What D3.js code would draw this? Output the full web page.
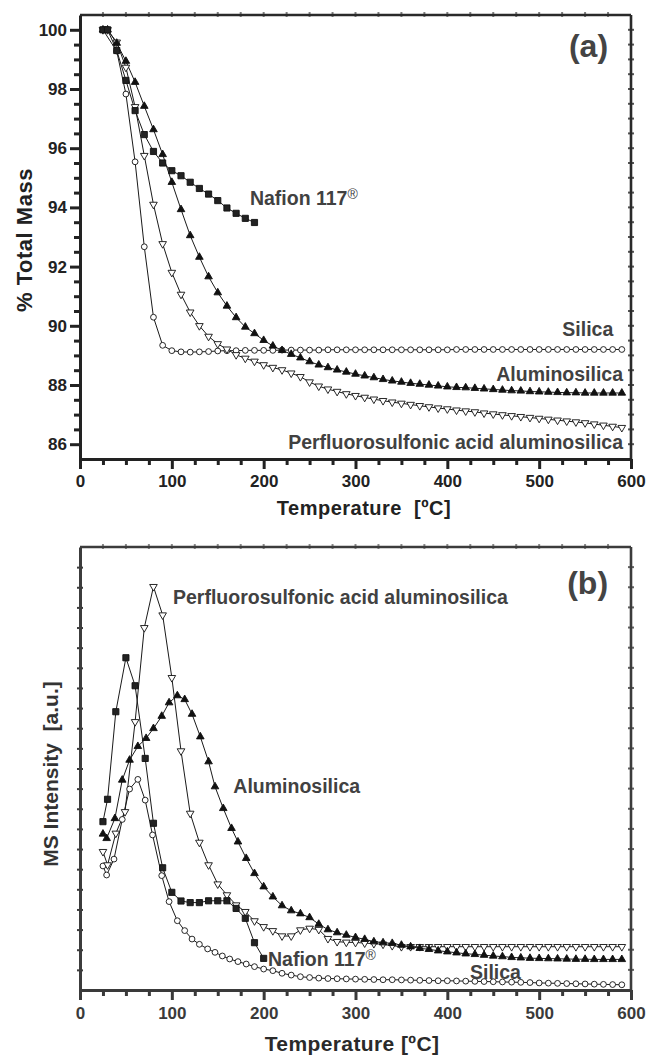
<!DOCTYPE html>
<html>
<head>
<meta charset="utf-8">
<script src="https://cdn.jsdelivr.net/npm/d3@7"></script>
<style>
body { margin: 0; background: #fff; }
svg { display: block; font-family: "Liberation Sans", Arial, sans-serif; }
</style>
</head>
<body>
<script>
// ---- panel (a): % total mass vs temperature ----
var tempA = [25, 30, 40, 50, 60, 70, 80, 90, 100, 110, 120, 130, 140, 150, 160, 170, 180, 190,
    200, 210, 220, 230, 240, 250, 260, 270, 280, 290, 300, 310, 320, 330, 340, 350, 360, 370, 380, 390,
    400, 410, 420, 430, 440, 450, 460, 470, 480, 490, 500, 510, 520, 530, 540, 550, 560, 570, 580, 590];
var perfA = [100.0, 100.0, 99.58, 98.73, 97.40, 95.75, 94.10, 92.77, 91.80, 91.06, 90.46, 90.00, 89.64, 89.39,
    89.21, 89.02, 88.90, 88.80, 88.68, 88.59, 88.51, 88.40, 88.28, 88.10, 87.96, 87.86, 87.78, 87.70, 87.64,
    87.58, 87.52, 87.47, 87.42, 87.38, 87.34, 87.30, 87.26, 87.22, 87.19, 87.15, 87.12, 87.09, 87.05, 87.02,
    86.99, 86.96, 86.93, 86.90, 86.87, 86.84, 86.81, 86.78, 86.75, 86.72, 86.68, 86.64, 86.60, 86.56];
var aluA = [100.0, 100.0, 99.55, 98.94, 98.23, 97.42, 96.63, 95.79, 94.85, 93.93, 93.05, 92.32, 91.66, 91.12,
    90.67, 90.28, 89.96, 89.74, 89.51, 89.32, 89.17, 89.04, 88.92, 88.79, 88.68, 88.59, 88.51, 88.44, 88.37,
    88.31, 88.25, 88.19, 88.14, 88.10, 88.06, 88.03, 88.00, 87.97, 87.94, 87.92, 87.91, 87.89, 87.87, 87.85,
    87.83, 87.81, 87.80, 87.78, 87.77, 87.76, 87.75, 87.74, 87.74, 87.73, 87.73, 87.73, 87.73, 87.73];

var silicaA_T = [25, 40, 50, 60, 70, 80, 90, 100, 110, 120, 130, 140, 150, 160, 170, 180, 190,
    200, 210, 220, 230, 240, 250, 260, 270, 280, 290, 300, 310, 320, 330, 340, 350, 360, 370, 380, 390,
    400, 410, 420, 430, 440, 450, 460, 470, 480, 490, 500, 510, 520, 530, 540, 550, 560, 570, 580, 590];
var silicaA = [100.0, 99.28, 97.83, 95.54, 92.67, 90.29, 89.34, 89.16, 89.12, 89.11, 89.12, 89.13, 89.15,
    89.16, 89.16, 89.17, 89.17, 89.17, 89.17, 89.18, 89.18, 89.18, 89.18, 89.18, 89.19, 89.19, 89.19,
    89.19, 89.19, 89.19, 89.19, 89.19, 89.19, 89.19, 89.19, 89.19, 89.19, 89.19, 89.20, 89.20, 89.20,
    89.20, 89.20, 89.20, 89.20, 89.20, 89.20, 89.20, 89.20, 89.20, 89.20, 89.20, 89.20, 89.20, 89.20, 89.20, 89.20];

var nafionA_T = [25, 30, 40, 50, 60, 70, 80, 90, 100, 110, 120, 130, 140, 150, 160, 170, 180, 190];
var nafionA = [100.0, 100.0, 99.30, 98.29, 97.27, 96.46, 95.89, 95.50, 95.24, 95.07, 94.85, 94.64, 94.45,
    94.23, 93.98, 93.80, 93.63, 93.49];

// ---- panel (b): MS intensity (a.u.) vs temperature ----
var perfB_T = [25, 30, 39, 49, 60, 70, 80, 90, 100, 110, 120, 130, 140, 150, 160, 170, 180, 190,
    200, 210, 220, 230, 240, 250, 260, 270, 280, 290, 300, 310, 320, 330, 340, 350, 360, 370, 380, 390,
    400, 410, 420, 430, 440, 450, 460, 470, 480, 490, 500, 510, 520, 530, 540, 550, 560, 570, 580, 590];
var perfB = [6.87, 6.21, 7.78, 8.85, 13.32, 17.99, 20.03, 18.62, 15.51, 11.87, 8.77, 7.33, 6.21, 5.26,
    4.72, 4.22, 3.89, 3.43, 3.14, 2.94, 2.68, 2.68, 2.98, 3.06, 3.00, 2.55, 2.40, 2.37, 2.36, 2.33, 2.30,
    2.27, 2.20, 2.15, 2.15, 2.15, 2.15, 2.15, 2.15, 2.15, 2.15, 2.15, 2.15, 2.15, 2.15, 2.15, 2.15, 2.15,
    2.15, 2.15, 2.15, 2.15, 2.15, 2.15, 2.15, 2.15, 2.15, 2.15];

var aluB_T = [25, 29, 38, 46, 54, 63, 72, 80, 89, 97, 106, 114, 122, 131, 140, 147, 156, 165, 172, 181,
    190, 200, 210, 220, 230, 240, 250, 260, 270, 280, 290, 300, 310, 320, 330, 340, 350, 360, 370, 380, 390,
    400, 410, 420, 430, 440, 450, 460, 470, 480, 490, 500, 510, 520, 530, 540, 550, 560, 570, 580, 590];
var aluB = [7.75, 7.53, 8.52, 10.43, 11.42, 12.10, 12.50, 12.99, 13.60, 14.27, 14.62, 14.43, 13.70, 12.58,
    11.34, 10.10, 9.02, 8.03, 7.36, 6.54, 5.79, 5.13, 4.63, 4.19, 3.94, 3.79, 3.60, 3.27, 3.00, 2.85, 2.73,
    2.61, 2.52, 2.40, 2.35, 2.32, 2.23, 2.15, 2.07, 2.02, 1.95, 1.90, 1.85, 1.80, 1.77, 1.73, 1.69, 1.66,
    1.62, 1.60, 1.58, 1.57, 1.56, 1.55, 1.54, 1.53, 1.53, 1.52, 1.52, 1.52, 1.52];

var nafionB_T = [25, 30, 39, 50, 60, 71, 80, 90, 100, 110, 120, 130, 140, 150, 160, 170, 180, 190, 200];
var nafionB = [8.36, 9.47, 13.82, 16.50, 15.11, 11.50, 8.28, 6.07, 4.85, 4.42, 4.34, 4.34, 4.43, 4.43,
    4.43, 4.05, 3.56, 2.35, 1.57];

var silicaB_T = [25, 29, 37, 46, 54, 63, 71, 79, 89, 97, 106, 114, 122, 130, 139, 147, 155, 163, 172, 181,
    190, 200, 210, 220, 230, 240, 250, 260, 270, 280, 290, 300, 310, 320, 330, 340, 350, 360, 370, 380, 390,
    400, 410, 420, 430, 440, 450, 460, 470, 480, 490, 500, 510, 520, 530, 540, 550, 560, 570, 580, 590];
var silicaB = [6.16, 5.71, 6.50, 8.47, 9.98, 10.46, 9.43, 7.70, 5.68, 4.39, 3.44, 2.95, 2.53, 2.27, 2.04,
    1.87, 1.69, 1.54, 1.41, 1.29, 1.16, 1.04, 0.96, 0.83, 0.74, 0.66, 0.62, 0.59, 0.57, 0.56, 0.55, 0.54,
    0.53, 0.52, 0.51, 0.51, 0.50, 0.49, 0.48, 0.47, 0.46, 0.46, 0.45, 0.44, 0.43, 0.42, 0.41, 0.40, 0.39,
    0.38, 0.37, 0.35, 0.34, 0.33, 0.32, 0.31, 0.30, 0.29, 0.28, 0.27, 0.26];

var xTicks = [0, 100, 200, 300, 400, 500, 600];
var yTicksA = [86, 88, 90, 92, 94, 96, 98, 100];

// sizes
var W = 646, H = 1056;
var LEFT = 80, RIGHT = 631;

var svg = d3.select("body").append("svg")
    .attr("width", W)
    .attr("height", H);

var xA = d3.scaleLinear().domain([0, 600]).range([LEFT, RIGHT]);
var yA = d3.scaleLinear().domain([85.5, 100.5]).range([459, 15]);
var xB = d3.scaleLinear().domain([0, 600]).range([LEFT, RIGHT]);
var yB = d3.scaleLinear().domain([0, 22]).range([990, 547]);

function isMajorX(d) { return xTicks.indexOf(d) >= 0; }

// bottom temperature axis, used by both panels
function bottomAxis(x, yPos, col, labelY) {
    var g = svg.append("g")
        .attr("transform", "translate(0," + yPos + ")")
        .call(d3.axisBottom(x).tickValues(d3.range(0, 601, 25)).tickSizeOuter(0)
            .tickFormat(function (d) { return isMajorX(d) ? d : ""; }));
    g.select(".domain").attr("stroke", col).attr("stroke-width", 3);
    g.selectAll(".tick line").attr("stroke", col).attr("stroke-width", 3)
        .attr("y2", function (d) { return isMajorX(d) ? 10 : 6; });
    g.selectAll(".tick text").attr("y", labelY).attr("dy", "0.71em")
        .attr("fill", col).style("font-size", "17px").style("font-weight", "bold")
        .style("font-family", "'Liberation Sans', Arial, sans-serif");
    return g;
}

// thin top / right border with little tick marks
function border(x, y, yTickVals, col) {
    var top = y.range()[1], bot = y.range()[0];
    svg.append("line").attr("x1", LEFT).attr("x2", RIGHT).attr("y1", top).attr("y2", top)
        .attr("stroke", col).attr("stroke-width", 2.6);
    svg.append("line").attr("x1", RIGHT).attr("x2", RIGHT).attr("y1", top).attr("y2", bot + 1)
        .attr("stroke", col).attr("stroke-width", 2.6);
    svg.append("g").selectAll("line").data(d3.range(25, 600, 25)).join("line")
        .attr("x1", function (d) { return x(d); }).attr("x2", function (d) { return x(d); })
        .attr("y1", top - 3).attr("y2", top + 2)
        .attr("stroke", col).attr("stroke-width", 2).attr("opacity", 0.6);
    svg.append("g").selectAll("line").data(yTickVals).join("line")
        .attr("y1", function (d) { return y(d); }).attr("y2", function (d) { return y(d); })
        .attr("x1", RIGHT - 3).attr("x2", RIGHT + 3)
        .attr("stroke", col).attr("stroke-width", 2).attr("opacity", 0.8);
}

var line = function (x, y) {
    return d3.line().x(function (d) { return x(d.t); }).y(function (d) { return y(d.v); });
};

function pts(T, V) {
    return T.map(function (t, i) { return {t: t, v: V[i]}; });
}

function drawLine(x, y, T, V) {
    svg.append("path").datum(pts(T, V))
        .attr("d", line(x, y))
        .attr("fill", "none")
        .attr("stroke", "#1a1a1a")
        .attr("stroke-width", 1);
}

function drawMarks(x, y, T, V, shape) {
    var g = svg.append("g");
    var data = pts(T, V);
    if (shape === "circle") {
        g.selectAll("circle").data(data).join("circle")
            .attr("cx", function (d) { return x(d.t); })
            .attr("cy", function (d) { return y(d.v); })
            .attr("r", 2.9)
            .attr("fill", "#fff").attr("stroke", "#111").attr("stroke-width", 0.9);
        return;
    }
    var sym, size, fill, rot = 0;
    if (shape === "square") { sym = d3.symbolSquare; size = 38; fill = "#222"; }
    if (shape === "up") { sym = d3.symbolTriangle; size = 25; fill = "#111"; }
    if (shape === "down") { sym = d3.symbolTriangle; size = 25; fill = "#fff"; rot = 180; }
    g.selectAll("path").data(data).join("path")
        .attr("d", d3.symbol().type(sym).size(size))
        .attr("transform", function (d) {
            return "translate(" + x(d.t) + "," + y(d.v) + ") rotate(" + rot + ")";
        })
        .attr("fill", fill).attr("stroke", "#111").attr("stroke-width", 0.9);
}

function label(x, y, t, v, txt, anchor, size, col) {
    return svg.append("text")
        .attr("x", x(t)).attr("y", y(v))
        .attr("text-anchor", anchor)
        .attr("fill", col || "#414141")
        .style("font-size", (size || 19.5) + "px")
        .style("font-weight", "bold")
        .text(txt);
}

function nafionLabel(x, y, t, v) {
    var tx = label(x, y, t, v, "Nafion 117", "start");
    tx.append("tspan").attr("dy", -6).style("font-size", "14px").style("font-weight", "normal").text("®");
}

// ================= panel (a) =================
border(xA, yA, d3.range(86, 100.5, 0.5), "#2a2a2a");

var gyA = svg.append("g")
    .attr("transform", "translate(" + LEFT + ",0)")
    .call(d3.axisLeft(yA).tickValues(d3.range(86, 100.5, 0.5)).tickSizeOuter(0)
        .tickFormat(function (d) { return yTicksA.indexOf(d) >= 0 ? d : ""; }));
gyA.select(".domain").attr("stroke", "#222").attr("stroke-width", 3);
gyA.selectAll(".tick line").attr("stroke", "#222").attr("stroke-width", 3)
    .attr("x2", function (d) { return yTicksA.indexOf(d) >= 0 ? -10 : -6; });
gyA.selectAll(".tick text").attr("x", -13).attr("fill", "#222")
    .style("font-size", "17px").style("font-weight", "bold")
    .style("font-family", "'Liberation Sans', Arial, sans-serif");

bottomAxis(xA, 459, "#222", 16);

drawLine(xA, yA, silicaA_T, silicaA);
drawLine(xA, yA, tempA, perfA);
drawLine(xA, yA, tempA, aluA);
drawLine(xA, yA, nafionA_T, nafionA);
drawMarks(xA, yA, silicaA_T, silicaA, "circle");
drawMarks(xA, yA, tempA, perfA, "down");
drawMarks(xA, yA, tempA, aluA, "up");
drawMarks(xA, yA, nafionA_T, nafionA, "square");

nafionLabel(xA, yA, 185, 94.08);
label(xA, yA, 580.7, 89.67, "Silica", "end");
label(xA, yA, 591.3, 88.12, "Aluminosilica", "end");
label(xA, yA, 591.3, 85.84, "Perfluorosulfonic acid aluminosilica", "end");
label(xA, yA, 575, 99.08, "(a)", "end", 32, "#444");

svg.append("text")
    .attr("x", 364).attr("y", 515)
    .attr("text-anchor", "middle").attr("fill", "#222")
    .style("font-size", "20px").style("font-weight", "bold")
    .style("letter-spacing", "0.5px").style("white-space", "pre")
    .text("Temperature  [ºC]");

svg.append("text")
    .attr("transform", "translate(32,240) rotate(-90)")
    .attr("text-anchor", "middle").attr("fill", "#222")
    .style("font-size", "22px").style("font-weight", "bold")
    .style("letter-spacing", "0.5px")
    .text("% Total Mass");

// ================= panel (b) =================
border(xB, yB, d3.range(1, 22, 1), "#3c3c3c");

var gyB = svg.append("g")
    .attr("transform", "translate(" + LEFT + ",0)")
    .call(d3.axisLeft(yB).tickValues(d3.range(1, 22, 1)).tickSizeOuter(0).tickFormat(""));
gyB.select(".domain").attr("stroke", "#3c3c3c").attr("stroke-width", 3);
gyB.selectAll(".tick line").attr("stroke", "#3c3c3c").attr("stroke-width", 2)
    .attr("x1", 3).attr("x2", -3);

bottomAxis(xB, 990, "#3a3a3a", 17);

drawLine(xB, yB, silicaB_T, silicaB);
drawLine(xB, yB, perfB_T, perfB);
drawLine(xB, yB, aluB_T, aluB);
drawLine(xB, yB, nafionB_T, nafionB);
drawMarks(xB, yB, silicaB_T, silicaB, "circle");
drawMarks(xB, yB, perfB_T, perfB, "down");
drawMarks(xB, yB, aluB_T, aluB, "up");
drawMarks(xB, yB, nafionB_T, nafionB, "square");

label(xB, yB, 101.3, 19.17, "Perfluorosulfonic acid aluminosilica", "start");
label(xB, yB, 167, 9.78, "Aluminosilica", "start");
nafionLabel(xB, yB, 204.7, 1.19);
label(xB, yB, 424.7, 0.55, "Silica", "start");
label(xB, yB, 575, 19.67, "(b)", "end", 32, "#444");

svg.append("text")
    .attr("x", 352).attr("y", 1051)
    .attr("text-anchor", "middle").attr("fill", "#2a2a2a")
    .style("font-size", "21px").style("font-weight", "bold")
    .style("letter-spacing", "0.4px")
    .text("Temperature [ºC]");

svg.append("text")
    .attr("transform", "translate(58,774) rotate(-90)")
    .attr("text-anchor", "middle").attr("fill", "#333")
    .style("font-size", "21px").style("font-weight", "bold")
    .style("white-space", "pre")
    .text("MS Intensity  [a.u.]");
</script>
</body>
</html>
